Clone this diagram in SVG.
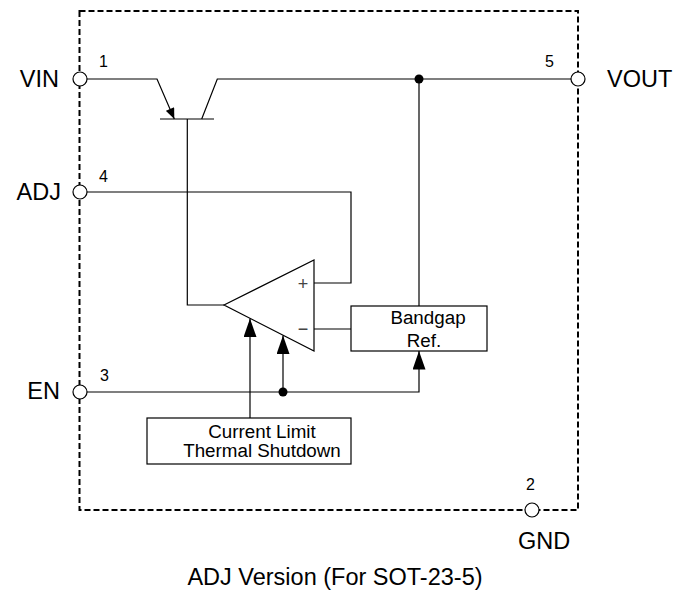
<svg xmlns="http://www.w3.org/2000/svg" width="676" height="593" viewBox="0 0 676 593">
<style>
.w{fill:none;stroke:#000;stroke-width:1.2}
.pin{fill:#fff;stroke:#000;stroke-width:1.2}
.box{fill:#fff;stroke:#000;stroke-width:1.2}
.lbl{font-family:"Liberation Sans",Arial,sans-serif;font-size:23.5px;fill:#000}
.num{font-family:"Liberation Sans",Arial,sans-serif;font-size:16px;fill:#000}
.t{font-family:"Liberation Sans",Arial,sans-serif;font-size:18.8px;fill:#000;text-anchor:middle}
.sg{font-family:"Liberation Sans",Arial,sans-serif;font-size:18px;fill:#444;text-anchor:middle}
</style>
<defs>
<marker id="ah" viewBox="0 0 20 14" refX="20" refY="7" markerWidth="20" markerHeight="13" markerUnits="userSpaceOnUse" orient="auto">
<path d="M0,0 L20,7 L0,14 Z" fill="#000"/>
</marker>
<marker id="ae" viewBox="0 0 12 10" refX="12" refY="5" markerWidth="12" markerHeight="9" markerUnits="userSpaceOnUse" orient="auto">
<path d="M0,0 L12,5 L0,10 Z" fill="#000"/>
</marker>
</defs>
<rect x="79.5" y="11" width="498.5" height="499" fill="none" stroke="#000" stroke-width="2" stroke-dasharray="6 3"/>
<g id="connectors">
<polyline class="w" points="87,79 157,79 174.3,119" marker-end="url(#ae)"/>
<line class="w" x1="160" y1="119" x2="214" y2="119"/>
<polyline class="w" points="201.7,119 217.3,79 571,79"/>
<polyline class="w" points="187.3,119 187.3,305 224,305"/>
<polyline class="w" points="87,192 351,192 351,283 314,283"/>
<line class="w" x1="314" y1="329" x2="351" y2="329"/>
<line class="w" x1="419" y1="79" x2="419" y2="306"/>
<polyline class="w" points="87,392 419,392 419,351" marker-end="url(#ah)"/>
<line class="w" x1="283" y1="392" x2="283" y2="335.5" marker-end="url(#ah)"/>
<line class="w" x1="250" y1="418" x2="250" y2="318.5" marker-end="url(#ah)"/>
<circle cx="419" cy="79" r="4.5" fill="#000"/>
<circle cx="283" cy="392" r="4.5" fill="#000"/>
</g>
<g id="opamp">
<polygon class="box" points="224,305 314,260 314,351"/>
<text class="sg" x="303" y="290">+</text>
<text class="sg" x="303" y="335">−</text>
</g>
<g id="bandgap">
<rect class="box" x="351" y="306" width="136" height="45"/>
<text class="t" x="428" y="324">Bandgap</text>
<text class="t" x="424" y="347">Ref.</text>
</g>
<g id="climit">
<rect class="box" x="147" y="418" width="204" height="46"/>
<text class="t" x="262" y="438">Current Limit</text>
<text class="t" x="262" y="457">Thermal Shutdown</text>
</g>
<g id="pin-vin">
<circle class="pin" cx="80" cy="79" r="7"/>
<text class="lbl" x="59" y="87" text-anchor="end">VIN</text>
<text class="num" x="99" y="67">1</text>
</g>
<g id="pin-adj">
<circle class="pin" cx="80" cy="192" r="7"/>
<text class="lbl" x="61" y="200" text-anchor="end">ADJ</text>
<text class="num" x="99" y="182">4</text>
</g>
<g id="pin-en">
<circle class="pin" cx="80" cy="392" r="7"/>
<text class="lbl" x="60" y="399" text-anchor="end">EN</text>
<text class="num" x="100" y="381">3</text>
</g>
<g id="pin-vout">
<circle class="pin" cx="578" cy="79" r="7"/>
<text class="lbl" x="607" y="87">VOUT</text>
<text class="num" x="545" y="67">5</text>
</g>
<g id="pin-gnd">
<circle class="pin" cx="532" cy="510" r="7"/>
<text class="lbl" x="544" y="549" text-anchor="middle">GND</text>
<text class="num" x="526" y="490">2</text>
</g>
<text class="lbl" x="335" y="585" text-anchor="middle">ADJ Version (For SOT-23-5)</text>
</svg>
